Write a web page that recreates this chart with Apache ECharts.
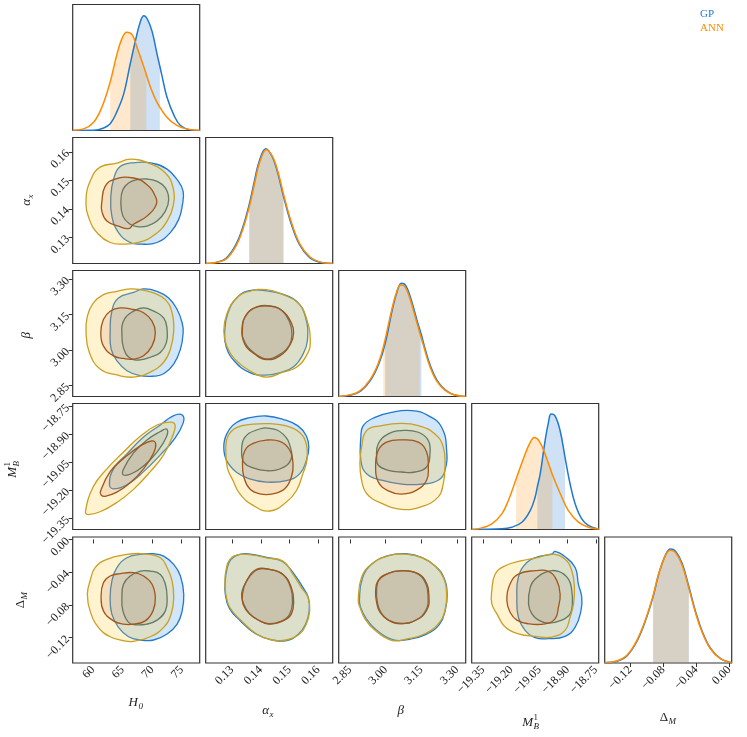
<!DOCTYPE html>
<html>
<head>
<meta charset="utf-8">
<style>html,body{margin:0;padding:0;background:#fff}#chart{width:747px;height:737px}</style>
<script src="https://cdn.jsdelivr.net/npm/echarts@6/dist/echarts.min.js"></script>
</head>
<body>
<div id="chart"></div>
<script>
var myChart = echarts.init(document.getElementById('chart'));

// axis ranges and tick labels
var h0Range = [56.55, 78.05];
var axRange = [0.1208, 0.1650];
var beRange = [2.803, 3.336];
var mbRange = [-19.41, -18.735];
var dmRange = [-0.151, 0.003];

var h0Ticks = [60, 65, 70, 75];
var axTicks = [0.13, 0.14, 0.15, 0.16];
var beTicks = [2.85, 3.00, 3.15, 3.30];
var mbTicks = [-19.35, -19.20, -19.05, -18.90, -18.75];
var dmTicks = [-0.12, -0.08, -0.04, 0.00];

// 1D marginals [value, relative density] and 68% bands
var h0Gp = [[56.55,0],[60.1,0.001],[61.8,0.02],[62.9,0.053],[64.0,0.146],[65.2,0.293],[66.3,0.532],[67.2,0.718],[68.0,0.864],[68.6,0.91],[69.2,0.883],[70.0,0.785],[70.8,0.612],[71.3,0.51],[71.7,0.426],[72.5,0.266],[73.7,0.12],[74.8,0.04],[76.5,0.005],[78.05,0]];
var h0Ann = [[56.55,0.002],[58.4,0.013],[60.1,0.066],[61.5,0.186],[62.9,0.386],[64.0,0.598],[64.9,0.731],[65.7,0.78],[66.6,0.761],[67.4,0.665],[68.6,0.505],[69.0,0.445],[69.7,0.346],[70.8,0.226],[72.5,0.106],[74.2,0.04],[75.9,0.011],[78.05,0.001]];
var h0GpBand = [66.3, 71.3];
var h0AnnBand = [62.9, 69.0];

var axGp = [[0.1208,0],[0.1244,0.009],[0.1279,0.042],[0.1313,0.15],[0.1336,0.28],[0.1359,0.465],[0.1377,0.65],[0.1394,0.81],[0.1417,0.91],[0.1440,0.845],[0.1458,0.725],[0.1478,0.54],[0.1504,0.326],[0.1533,0.155],[0.1568,0.05],[0.1602,0.012],[0.165,0]];
var axAnn = [[0.1208,0],[0.1246,0.008],[0.1281,0.039],[0.1315,0.145],[0.1338,0.276],[0.1361,0.461],[0.1379,0.645],[0.1396,0.803],[0.1419,0.903],[0.1442,0.842],[0.1460,0.724],[0.1480,0.54],[0.1506,0.329],[0.1535,0.158],[0.1570,0.053],[0.1604,0.013],[0.165,0]];
var axGpBand = [0.1359, 0.1478];
var axAnnBand = [0.1361, 0.1480];

var beGp = [[2.803,0],[2.853,0.012],[2.895,0.043],[2.937,0.13],[2.972,0.262],[2.998,0.42],[3.028,0.69],[3.049,0.838],[3.066,0.898],[3.084,0.882],[3.105,0.782],[3.133,0.595],[3.150,0.49],[3.161,0.41],[3.189,0.238],[3.224,0.105],[3.273,0.025],[3.336,0]];
var beAnn = [[2.803,0],[2.850,0.013],[2.892,0.045],[2.934,0.132],[2.969,0.263],[2.990,0.39],[3.025,0.684],[3.046,0.829],[3.063,0.885],[3.081,0.872],[3.102,0.776],[3.130,0.592],[3.143,0.505],[3.158,0.408],[3.186,0.237],[3.221,0.105],[3.270,0.026],[3.336,0]];
var beGpBand = [2.998, 3.150];
var beAnnBand = [2.990, 3.143];

var mbGp = [[-19.41,0],[-19.250,0.005],[-19.197,0.018],[-19.143,0.058],[-19.099,0.150],[-19.073,0.256],[-19.061,0.34],[-19.046,0.441],[-19.020,0.704],[-19.002,0.850],[-18.988,0.916],[-18.967,0.902],[-18.940,0.784],[-18.914,0.573],[-18.887,0.361],[-18.860,0.203],[-18.825,0.084],[-18.790,0.032],[-18.735,0.003]];
var mbAnn = [[-19.41,0.001],[-19.356,0.013],[-19.303,0.045],[-19.250,0.124],[-19.215,0.230],[-19.174,0.40],[-19.126,0.599],[-19.099,0.691],[-19.078,0.731],[-19.052,0.704],[-19.020,0.599],[-18.981,0.435],[-18.931,0.256],[-18.896,0.150],[-18.843,0.058],[-18.790,0.018],[-18.735,0.003]];
var mbGpBand = [-19.061, -18.914];
var mbAnnBand = [-19.174, -18.981];

var dmGp = [[-0.151,0.002],[-0.1360,0.014],[-0.1238,0.058],[-0.1117,0.175],[-0.1016,0.335],[-0.0922,0.53],[-0.0854,0.708],[-0.0773,0.858],[-0.0712,0.905],[-0.0651,0.888],[-0.0570,0.79],[-0.0489,0.605],[-0.0408,0.408],[-0.0326,0.248],[-0.0225,0.115],[-0.0104,0.034],[0.003,0.003]];
var dmAnn = [[-0.151,0.003],[-0.1363,0.016],[-0.1241,0.061],[-0.112,0.179],[-0.1019,0.337],[-0.0925,0.53],[-0.0857,0.705],[-0.0776,0.850],[-0.0715,0.895],[-0.0654,0.878],[-0.0573,0.780],[-0.0492,0.598],[-0.0411,0.403],[-0.0329,0.245],[-0.0228,0.113],[-0.0107,0.034],[0.003,0.003]];
var dmGpBand = [-0.0922, -0.0489];
var dmAnnBand = [-0.0925, -0.0492];

// 2D contours (68% inner, 95% outer), [x, y] in data units
var axH0GpOut = [[63.01,0.14438],[63.45,0.15020],[64.59,0.15482],[67.14,0.15622],[69.98,0.15601],[72.53,0.15392],[74.23,0.15020],[75.25,0.14612],[75.08,0.14090],[74.50,0.13628],[73.09,0.13165],[70.83,0.12817],[67.99,0.12758],[66.29,0.12817],[64.30,0.13165],[63.18,0.13742]];
var axH0GpIn = [[64.71,0.14299],[65.05,0.14672],[66.0,0.14905],[67.43,0.15020],[69.13,0.15044],[70.83,0.14960],[72.24,0.14731],[72.80,0.14324],[72.24,0.13916],[70.83,0.13568],[69.13,0.13394],[67.43,0.13374],[66.29,0.13454],[65.05,0.13742]];
var axH0AnnOut = [[58.81,0.14324],[59.61,0.15020],[61.19,0.15462],[64.03,0.15601],[66.29,0.15740],[69.40,0.15601],[72.24,0.15253],[73.55,0.14731],[73.55,0.14090],[72.53,0.13568],[70.54,0.13106],[67.70,0.12817],[64.88,0.12758],[62.89,0.12817],[60.90,0.13106],[59.37,0.13628]];
var axH0AnnIn = [[61.48,0.14230],[62.04,0.14786],[63.74,0.15044],[66.85,0.15079],[69.13,0.14846],[70.54,0.14438],[70.70,0.14150],[69.13,0.13742],[66.85,0.13454],[66.0,0.13304],[64.30,0.13394],[62.33,0.13568],[61.48,0.13916]];

var beH0GpOut = [[62.89,3.073],[63.18,3.164],[64.30,3.220],[66.85,3.243],[68.55,3.258],[70.83,3.248],[72.80,3.220],[74.23,3.171],[75.08,3.115],[75.25,3.073],[74.79,3.003],[73.65,2.940],[71.95,2.899],[70.25,2.889],[67.99,2.891],[65.73,2.912],[64.03,2.954],[63.06,3.003]];
var beH0GpIn = [[64.88,3.066],[65.27,3.129],[66.85,3.164],[68.55,3.178],[70.25,3.164],[71.95,3.136],[72.53,3.087],[72.41,3.031],[71.39,2.989],[69.69,2.969],[67.99,2.958],[66.58,2.961],[65.44,2.989]];
var beH0AnnOut = [[58.81,3.073],[59.03,3.143],[60.05,3.199],[61.75,3.234],[64.03,3.248],[66.29,3.258],[67.99,3.255],[70.25,3.241],[72.24,3.213],[73.38,3.157],[73.65,3.080],[73.09,3.003],[71.95,2.948],[69.69,2.906],[66.85,2.885],[64.03,2.894],[61.19,2.919],[59.37,2.989]];
var beH0AnnIn = [[61.31,3.073],[61.75,3.129],[62.89,3.164],[64.59,3.178],[66.85,3.171],[68.55,3.157],[69.98,3.122],[70.54,3.073],[69.98,3.017],[68.55,2.975],[66.85,2.961],[65.15,2.964],[63.45,2.975],[61.75,3.017]];

var mbH0GpOut = [[62.77,-19.170],[63.45,-19.085],[65.73,-19.005],[68.55,-18.915],[71.39,-18.850],[73.65,-18.800],[75.10,-18.797],[75.25,-18.840],[73.65,-18.930],[71.39,-19.010],[68.55,-19.100],[65.73,-19.170],[63.45,-19.192]];
var mbH0GpIn = [[65.10,-19.090],[66.85,-19.000],[69.13,-18.930],[71.39,-18.885],[72.45,-18.872],[72.45,-18.912],[70.83,-18.995],[68.55,-19.070],[66.58,-19.110],[65.15,-19.118]];
var mbH0AnnOut = [[58.70,-19.315],[60.05,-19.180],[62.33,-19.085],[65.15,-18.995],[67.99,-18.910],[70.83,-18.850],[73.09,-18.835],[73.90,-18.852],[73.38,-18.915],[71.95,-19.010],[69.69,-19.100],[66.85,-19.195],[64.03,-19.265],[61.19,-19.315],[59.20,-19.330]];
var mbH0AnnIn = [[61.25,-19.205],[62.89,-19.100],[65.15,-19.030],[67.99,-18.962],[69.98,-18.935],[70.60,-18.950],[70.25,-19.000],[68.55,-19.085],[66.29,-19.160],[64.03,-19.210],[62.04,-19.232],[61.36,-19.225]];

var dmH0GpOut = [[62.89,-0.071],[63.18,-0.0508],[64.03,-0.0345],[65.73,-0.0224],[67.99,-0.0183],[70.25,-0.0175],[71.95,-0.0204],[73.65,-0.0305],[74.79,-0.0447],[75.35,-0.067],[75.08,-0.0873],[74.23,-0.1035],[72.53,-0.1156],[70.25,-0.1229],[67.99,-0.1229],[66.0,-0.1189],[64.30,-0.1075],[63.18,-0.0913]];
var dmH0GpIn = [[64.88,-0.071],[65.15,-0.0548],[66.29,-0.0447],[67.99,-0.0387],[69.69,-0.0387],[71.39,-0.0427],[72.24,-0.0548],[72.53,-0.071],[72.24,-0.0873],[70.83,-0.0986],[69.13,-0.1035],[67.14,-0.1043],[66.0,-0.1014],[65.05,-0.0873]];
var dmH0AnnOut = [[59.03,-0.067],[59.49,-0.0508],[60.34,-0.0345],[62.33,-0.0244],[65.73,-0.0183],[68.55,-0.0175],[71.39,-0.0224],[72.53,-0.0345],[73.38,-0.0508],[73.65,-0.071],[73.21,-0.0913],[71.95,-0.1075],[69.69,-0.1189],[66.85,-0.1245],[65.15,-0.1238],[62.89,-0.1189],[60.90,-0.1075],[59.49,-0.0873]];
var dmH0AnnIn = [[61.36,-0.0691],[61.75,-0.0528],[62.89,-0.0447],[64.59,-0.0418],[66.85,-0.0406],[68.55,-0.0447],[69.98,-0.0548],[70.54,-0.071],[70.15,-0.0873],[68.84,-0.0995],[66.85,-0.1035],[65.15,-0.1035],[63.45,-0.0995],[61.75,-0.0873]];

var beAxGpOut = [[0.1274,3.075],[0.1285,3.155],[0.1320,3.225],[0.1365,3.252],[0.1420,3.250],[0.1475,3.236],[0.1525,3.205],[0.1555,3.140],[0.1562,3.040],[0.1545,2.978],[0.1515,2.930],[0.1470,2.905],[0.1415,2.893],[0.1360,2.905],[0.1310,2.950],[0.1280,3.010]];
var beAxGpIn = [[0.1334,3.090],[0.1352,3.152],[0.1388,3.183],[0.1433,3.186],[0.1474,3.166],[0.1500,3.118],[0.1508,3.070],[0.1500,3.022],[0.1462,2.978],[0.1420,2.962],[0.1380,2.984],[0.1346,3.028]];
var beAxAnnOut = [[0.1271,3.080],[0.1281,3.150],[0.1315,3.220],[0.1361,3.248],[0.1419,3.255],[0.1477,3.234],[0.1529,3.199],[0.1558,3.136],[0.1572,3.031],[0.1558,2.975],[0.1524,2.927],[0.1477,2.906],[0.1419,2.885],[0.1361,2.912],[0.1309,2.961],[0.1281,3.017]];
var beAxAnnIn = [[0.1336,3.094],[0.1350,3.150],[0.1385,3.181],[0.1431,3.185],[0.1477,3.164],[0.1506,3.115],[0.1514,3.073],[0.1503,3.024],[0.1466,2.975],[0.1419,2.959],[0.1379,2.982],[0.1344,3.024]];

var mbAxGpOut = [[0.1271,-18.970],[0.1281,-18.899],[0.1315,-18.837],[0.1361,-18.811],[0.1419,-18.802],[0.1477,-18.820],[0.1529,-18.855],[0.1558,-18.908],[0.1567,-18.970],[0.1558,-19.041],[0.1535,-19.112],[0.1489,-19.148],[0.1419,-19.156],[0.1361,-19.139],[0.1315,-19.103],[0.1281,-19.041]];
var mbAxGpIn = [[0.1333,-18.988],[0.1344,-18.917],[0.1385,-18.877],[0.1431,-18.868],[0.1477,-18.899],[0.1503,-18.970],[0.1503,-19.041],[0.1466,-19.086],[0.1419,-19.095],[0.1373,-19.080],[0.1341,-19.050]];
var mbAxAnnOut = [[0.1278,-18.970],[0.1286,-18.908],[0.1315,-18.864],[0.1373,-18.846],[0.1431,-18.843],[0.1489,-18.855],[0.1535,-18.890],[0.1558,-18.953],[0.1560,-19.041],[0.1546,-19.112],[0.1524,-19.201],[0.1489,-19.263],[0.1431,-19.311],[0.1373,-19.281],[0.1327,-19.219],[0.1303,-19.148],[0.1283,-19.077]];
var mbAxAnnIn = [[0.1336,-19.059],[0.1344,-18.988],[0.1373,-18.949],[0.1419,-18.931],[0.1466,-18.938],[0.1498,-18.979],[0.1512,-19.059],[0.1506,-19.130],[0.1483,-19.192],[0.1442,-19.219],[0.1396,-19.219],[0.1361,-19.192],[0.1341,-19.130]];

var dmAxGpOut = [[0.1281,-0.0380],[0.1295,-0.0250],[0.1330,-0.0180],[0.1375,-0.0185],[0.1420,-0.0220],[0.1475,-0.0270],[0.1515,-0.0420],[0.1545,-0.0580],[0.1566,-0.0720],[0.1568,-0.0880],[0.1555,-0.1040],[0.1530,-0.1160],[0.1490,-0.1235],[0.1435,-0.1225],[0.1380,-0.1150],[0.1330,-0.1000],[0.1290,-0.0840],[0.1276,-0.0660],[0.1276,-0.0520]];
var dmAxGpIn = [[0.1333,-0.0660],[0.1352,-0.0500],[0.1388,-0.0370],[0.1433,-0.0368],[0.1478,-0.0432],[0.1504,-0.0592],[0.1510,-0.0755],[0.1500,-0.0915],[0.1470,-0.1000],[0.1428,-0.1030],[0.1394,-0.0990],[0.1360,-0.0905],[0.1340,-0.0785]];
var dmAxAnnOut = [[0.1278,-0.0387],[0.1292,-0.0244],[0.1327,-0.0183],[0.1373,-0.0192],[0.1419,-0.0224],[0.1477,-0.0265],[0.1512,-0.0427],[0.1541,-0.0588],[0.1564,-0.071],[0.1570,-0.0873],[0.1558,-0.1035],[0.1535,-0.1156],[0.1489,-0.1229],[0.1437,-0.1229],[0.1385,-0.1156],[0.1333,-0.0995],[0.1292,-0.0832],[0.1278,-0.067],[0.1275,-0.0528]];
var dmAxAnnIn = [[0.1336,-0.067],[0.1350,-0.0508],[0.1385,-0.0366],[0.1431,-0.0366],[0.1477,-0.0427],[0.1506,-0.0588],[0.1514,-0.0751],[0.1506,-0.0913],[0.1477,-0.0995],[0.1431,-0.1035],[0.1396,-0.0995],[0.1361,-0.0913],[0.1338,-0.0791]];

var mbBeGpOut = [[2.896,-18.915],[2.906,-18.853],[2.955,-18.809],[3.025,-18.782],[3.109,-18.773],[3.179,-18.800],[3.235,-18.862],[3.256,-18.986],[3.249,-19.093],[3.221,-19.146],[3.151,-19.167],[3.067,-19.167],[2.983,-19.146],[2.920,-19.111],[2.896,-19.039]];
var mbBeGpIn = [[2.962,-19.022],[2.969,-18.951],[3.011,-18.898],[3.067,-18.880],[3.137,-18.889],[3.179,-18.933],[3.186,-19.004],[3.172,-19.075],[3.123,-19.102],[3.067,-19.102],[3.011,-19.093],[2.969,-19.066]];
var mbBeAnnOut = [[2.892,-19.057],[2.899,-18.969],[2.920,-18.880],[2.983,-18.853],[3.067,-18.841],[3.137,-18.853],[3.207,-18.898],[3.242,-18.969],[3.249,-19.075],[3.242,-19.164],[3.221,-19.235],[3.151,-19.288],[3.067,-19.302],[2.983,-19.270],[2.920,-19.217],[2.899,-19.146]];
var mbBeAnnIn = [[2.958,-19.075],[2.969,-18.986],[3.004,-18.942],[3.067,-18.930],[3.137,-18.942],[3.172,-18.995],[3.179,-19.075],[3.172,-19.146],[3.130,-19.199],[3.067,-19.220],[3.011,-19.203],[2.969,-19.155]];

var dmBeGpOut = [[2.890,-0.0740],[2.903,-0.0470],[2.945,-0.0295],[3.015,-0.0195],[3.085,-0.0175],[3.155,-0.0225],[3.210,-0.0330],[3.245,-0.0470],[3.258,-0.0670],[3.250,-0.0870],[3.225,-0.1040],[3.170,-0.1160],[3.100,-0.1220],[3.030,-0.1225],[2.960,-0.1105],[2.918,-0.0965],[2.895,-0.0830]];
var dmBeGpIn = [[2.962,-0.0620],[2.972,-0.0495],[3.014,-0.0410],[3.070,-0.0385],[3.125,-0.0405],[3.162,-0.0500],[3.178,-0.0700],[3.168,-0.0870],[3.128,-0.0985],[3.070,-0.1025],[3.015,-0.0990],[2.980,-0.0890],[2.965,-0.0765]];
var dmBeAnnOut = [[2.885,-0.0746],[2.899,-0.0463],[2.941,-0.0301],[3.011,-0.020],[3.081,-0.018],[3.151,-0.022],[3.207,-0.0321],[3.242,-0.0463],[3.256,-0.0666],[3.249,-0.0868],[3.221,-0.1031],[3.165,-0.1153],[3.095,-0.1213],[3.025,-0.1233],[2.955,-0.1111],[2.913,-0.097],[2.892,-0.0828]];
var dmBeAnnIn = [[2.958,-0.0625],[2.969,-0.050],[3.011,-0.0415],[3.067,-0.0382],[3.123,-0.0402],[3.165,-0.0496],[3.182,-0.0706],[3.172,-0.0868],[3.130,-0.0982],[3.067,-0.1031],[3.011,-0.0986],[2.976,-0.0889],[2.962,-0.0767]];

var dmMbGpOut = [[-19.170,-0.0706],[-19.162,-0.0463],[-19.117,-0.0281],[-19.055,-0.0211],[-18.984,-0.018],[-18.967,-0.0147],[-18.914,-0.0211],[-18.860,-0.0342],[-18.843,-0.0545],[-18.825,-0.0706],[-18.829,-0.0868],[-18.860,-0.1071],[-18.914,-0.1184],[-19.002,-0.1213],[-19.073,-0.1201],[-19.126,-0.1111],[-19.162,-0.095]];
var dmMbGpIn = [[-19.108,-0.0788],[-19.099,-0.0585],[-19.073,-0.0484],[-19.020,-0.0402],[-18.949,-0.039],[-18.896,-0.0484],[-18.878,-0.0625],[-18.875,-0.0788],[-18.887,-0.0909],[-18.931,-0.0986],[-19.002,-0.1023],[-19.055,-0.0986],[-19.090,-0.0909]];
var dmMbAnnOut = [[-19.303,-0.0625],[-19.285,-0.0423],[-19.232,-0.0321],[-19.143,-0.026],[-19.055,-0.022],[-18.984,-0.018],[-18.914,-0.0241],[-18.878,-0.0382],[-18.864,-0.0585],[-18.869,-0.0788],[-18.887,-0.095],[-18.914,-0.1111],[-18.984,-0.1193],[-19.073,-0.1184],[-19.162,-0.1153],[-19.232,-0.1071],[-19.276,-0.0909],[-19.303,-0.0788]];
var dmMbAnnIn = [[-19.223,-0.0746],[-19.206,-0.0545],[-19.162,-0.0423],[-19.073,-0.0382],[-19.002,-0.039],[-18.958,-0.050],[-18.940,-0.0666],[-18.949,-0.0828],[-18.967,-0.097],[-19.020,-0.1031],[-19.108,-0.1031],[-19.170,-0.0986],[-19.206,-0.0889]];

// layout
var panelLeft = [72.7, 205.7, 338.7, 471.7, 604.7];
var panelTop = [4.5, 137.5, 270.5, 403.5, 537];
var panelW = 127, panelH = 126;
var serif = '"Liberation Serif", "DejaVu Serif", serif';

var gpColor = '#1f78d1', annColor = '#ff8c00';
var gpBandColor = 'rgba(31,120,209,0.22)', annBandColor = 'rgba(255,140,0,0.2)';
var gpOutStyle = ['rgba(45,140,225,0.22)', '#2279cc'];
var gpInStyle = ['rgba(70,90,120,0.12)', '#34606f'];
var annOutStyle = ['rgba(255,205,60,0.24)', '#c9a024'];
var annInStyle = ['rgba(175,85,60,0.12)', '#a2561c'];

var params = [
  {range: h0Range, ticks: h0Ticks, dec: 0},
  {range: axRange, ticks: axTicks, dec: 2},
  {range: beRange, ticks: beTicks, dec: 2},
  {range: mbRange, ticks: mbTicks, dec: 2},
  {range: dmRange, ticks: dmTicks, dec: 2}
];

var diag = [
  {gp: h0Gp, ann: h0Ann, gpBand: h0GpBand, annBand: h0AnnBand},
  {gp: axGp, ann: axAnn, gpBand: axGpBand, annBand: axAnnBand},
  {gp: beGp, ann: beAnn, gpBand: beGpBand, annBand: beAnnBand},
  {gp: mbGp, ann: mbAnn, gpBand: mbGpBand, annBand: mbAnnBand},
  {gp: dmGp, ann: dmAnn, gpBand: dmGpBand, annBand: dmAnnBand}
];

var pairs = {
  '1,0': [axH0GpOut, axH0GpIn, axH0AnnOut, axH0AnnIn],
  '2,0': [beH0GpOut, beH0GpIn, beH0AnnOut, beH0AnnIn],
  '3,0': [mbH0GpOut, mbH0GpIn, mbH0AnnOut, mbH0AnnIn],
  '4,0': [dmH0GpOut, dmH0GpIn, dmH0AnnOut, dmH0AnnIn],
  '2,1': [beAxGpOut, beAxGpIn, beAxAnnOut, beAxAnnIn],
  '3,1': [mbAxGpOut, mbAxGpIn, mbAxAnnOut, mbAxAnnIn],
  '4,1': [dmAxGpOut, dmAxGpIn, dmAxAnnOut, dmAxAnnIn],
  '3,2': [mbBeGpOut, mbBeGpIn, mbBeAnnOut, mbBeAnnIn],
  '4,2': [dmBeGpOut, dmBeGpIn, dmBeAnnOut, dmBeAnnIn],
  '4,3': [dmMbGpOut, dmMbGpIn, dmMbAnnOut, dmMbAnnIn]
};

function fmt(dec) {
  return function (v) { return Number(v).toFixed(dec).replace('-', '\u2212'); };
}

function makeAxis(gi, p, showTicks) {
  return {
    gridIndex: gi, type: 'value', min: p.range[0], max: p.range[1],
    splitLine: {show: false}, axisLine: {show: false},
    axisTick: {show: showTicks, customValues: p.ticks, length: 4, inside: false,
      lineStyle: {color: '#333', width: 1}},
    axisLabel: {show: showTicks, customValues: p.ticks, rotate: 45, margin: 5,
      formatter: fmt(p.dec), fontFamily: serif, fontSize: 12, color: '#222'}
  };
}

function densityAxis(gi) {
  return {gridIndex: gi, type: 'value', min: 0, max: 1, splitLine: {show: false},
    axisLine: {show: false}, axisTick: {show: false}, axisLabel: {show: false}};
}

function bandOf(curve, band) {
  return curve.filter(function (p) { return p[0] >= band[0] - 1e-9 && p[0] <= band[1] + 1e-9; });
}

function polySeries(gi, pts, st, z) {
  return {
    type: 'custom', xAxisIndex: gi, yAxisIndex: gi, silent: true, z: z,
    data: pts,
    renderItem: function (params, api) {
      if (params.dataIndex !== 0) return null;
      var pp = pts.map(function (d) { return api.coord(d); });
      return {type: 'polygon', shape: {points: pp, smooth: 0.45},
        style: {fill: st[0], stroke: st[1], lineWidth: 1.3}};
    }
  };
}

var grids = [], xAxes = [], yAxes = [], series = [];
for (var i = 0; i < 5; i++) {
  for (var j = 0; j <= i; j++) {
    var gi = grids.length;
    grids.push({left: panelLeft[j], top: panelTop[i], width: panelW, height: panelH,
      show: true, borderColor: '#333', borderWidth: 1.2, backgroundColor: 'transparent',
      containLabel: false, outerBoundsMode: 'none'});
    xAxes.push(makeAxis(gi, params[j], i === 4));
    if (i === j) {
      yAxes.push(densityAxis(gi));
      var d = diag[i];
      [[d.gp, d.gpBand, gpColor, gpBandColor], [d.ann, d.annBand, annColor, annBandColor]].forEach(function (s) {
        series.push({type: 'line', xAxisIndex: gi, yAxisIndex: gi, data: bandOf(s[0], s[1]),
          smooth: 0.4, symbol: 'none', silent: true, lineStyle: {width: 0},
          areaStyle: {color: s[3], opacity: 1}, z: 2});
      });
      [[d.gp, gpColor], [d.ann, annColor]].forEach(function (s) {
        series.push({type: 'line', xAxisIndex: gi, yAxisIndex: gi, data: s[0],
          smooth: 0.4, symbol: 'none', silent: true,
          lineStyle: {width: 1.5, color: s[1]}, z: 3});
      });
    } else {
      yAxes.push(makeAxis(gi, params[i], j === 0));
      var c = pairs[i + ',' + j];
      series.push(polySeries(gi, c[0], gpOutStyle, 2));
      series.push(polySeries(gi, c[1], gpInStyle, 3));
      series.push(polySeries(gi, c[2], annOutStyle, 4));
      series.push(polySeries(gi, c[3], annInStyle, 5));
    }
  }
}

function txt(x, y, s, font, align) {
  return {type: 'text', x: x, y: y, style: {text: s, font: font, fill: '#222',
    textAlign: align, textVerticalAlign: 'middle', align: align, verticalAlign: 'middle'}};
}

function axisTitle(x, y, rot, main, sub, sup, italic) {
  var ch = [txt(1, 0, main, (italic ? 'italic ' : '') + '13px ' + serif, 'right'),
            txt(1.5, 4, sub, 'italic 9px ' + serif, 'left')];
  if (sup) ch.push(txt(1.5, -5, sup, '9px ' + serif, 'left'));
  return {type: 'group', x: x, y: y, rotation: rot, children: ch};
}

var R = Math.PI / 2;
var graphics = [
  axisTitle(137, 703, 0, 'H', '0', null, true),
  axisTitle(268, 711, 0, '\u03b1', 'x', null, true),
  axisTitle(403, 711, 0, '\u03b2', '', null, true),
  axisTitle(532, 723, 0, 'M', 'B', '1', true),
  axisTitle(667, 718, 0, '\u0394', 'M', null, false),
  axisTitle(27, 200, R, '\u03b1', 'x', null, true),
  axisTitle(27, 333, R, '\u03b2', '', null, true),
  axisTitle(13, 468, R, 'M', 'B', '1', true),
  axisTitle(21, 601, R, '\u0394', 'M', null, false),
  {type: 'text', x: 700, y: 14, style: {text: 'GP', font: '11px ' + serif, fill: gpColor,
    textAlign: 'left', textVerticalAlign: 'middle', align: 'left', verticalAlign: 'middle'}},
  {type: 'text', x: 700, y: 28, style: {text: 'ANN', font: '11px ' + serif, fill: annColor,
    textAlign: 'left', textVerticalAlign: 'middle', align: 'left', verticalAlign: 'middle'}}
];

var option = {
  animation: false,
  backgroundColor: '#fff',
  grid: grids,
  xAxis: xAxes,
  yAxis: yAxes,
  series: series,
  graphic: graphics
};

myChart.setOption(option);
</script>
</body>
</html>
